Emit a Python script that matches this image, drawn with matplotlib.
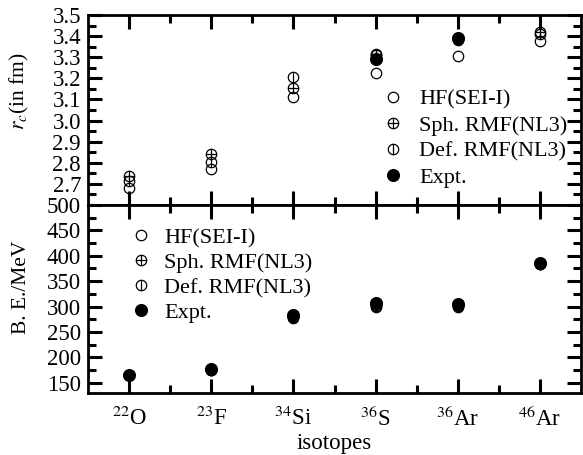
import numpy as np
import matplotlib
matplotlib.use("Agg")
from matplotlib import pyplot as plt
from matplotlib.path import Path
from matplotlib.ticker import MultipleLocator, FixedLocator

plt.rcParams['font.family'] = ['Liberation Serif', 'DejaVu Serif']
plt.rcParams['mathtext.fontset'] = 'stix'

## isotopes on the x axis
isotopes = ['$^{22}$O', '$^{23}$F', '$^{34}$Si', '$^{36}$S', '$^{36}$Ar', '$^{46}$Ar']
xpos = np.arange(1, 7)

## charge radii r_c (fm)
rc_hf = [2.68, 2.77, 3.11, 3.225, 3.305, 3.375]
rc_sph = [2.735, 2.84, 3.155, 3.315, 3.38, 3.42]
rc_def = [2.715, 2.805, 3.205, 3.31, 3.385, 3.41]
rc_exp_x = [4, 5]
rc_exp = [3.29, 3.39]

## binding energies (MeV)
be_hf = [165, 176, 278, 300, 300, 384]
be_sph = [165, 176, 280, 302, 302, 384]
be_def = [165, 176, 281, 303, 303, 384]
be_exp = [165, 177, 284, 307, 305, 385]

labels = ['HF(SEI-I)', 'Sph. RMF(NL3)', 'Def. RMF(NL3)', 'Expt.']

# markers: open circle, circle with cross, circle with vertical bar
circ = Path.unit_circle()
vbar = Path([[0, -1], [0, 1]], [Path.MOVETO, Path.LINETO])
hbar = Path([[-1, 0], [1, 0]], [Path.MOVETO, Path.LINETO])
m_sph = Path.make_compound_path(circ, vbar, hbar)
m_def = Path.make_compound_path(circ, vbar)

fs = 16.5
lfs = 16
yfs = 15.5
fig = plt.figure(figsize=(5.83, 4.55), dpi=100)
ax1 = fig.add_axes([0.151, 0.5495, 0.8456, 0.4176])
ax2 = fig.add_axes([0.151, 0.1363, 0.8456, 0.4132], sharex=ax1)

def style(ax):
    for s in ax.spines.values():
        s.set_linewidth(2.0)
    ax.tick_params(which='both', direction='in', top=True, right=True,
                   labelsize=fs, pad=5)
    ax.tick_params(which='major', length=10, width=2.2)
    ax.tick_params(which='minor', length=5.5, width=2.2)

def draw(ax, xs_list, ys_list):
    kw = dict(ls='none', color='black', mec='black', mew=0.9)
    ax.plot(xpos, ys_list[0], marker='o', ms=7.5, mfc='none', label=labels[0], **kw)
    ax.plot(xpos, ys_list[1], marker=m_sph, ms=7.5, mfc='none', label=labels[1], **kw)
    ax.plot(xpos, ys_list[2], marker=m_def, ms=7.5, mfc='none', label=labels[2], **kw)
    ax.plot(xs_list, ys_list[3], marker='o', ms=8.5, mfc='black', label=labels[3], **kw)

draw(ax1, rc_exp_x, [rc_hf, rc_sph, rc_def, rc_exp])
draw(ax2, xpos, [be_hf, be_sph, be_def, be_exp])

for ax in (ax1, ax2):
    style(ax)
    ax.set_xlim(0.5, 6.5)
    ax.xaxis.set_major_locator(FixedLocator(xpos))
    ax.xaxis.set_minor_locator(FixedLocator(xpos[:-1] + 0.5))

ax1.set_ylim(2.6, 3.5)
ax1.yaxis.set_major_locator(FixedLocator(np.round(np.arange(2.7, 3.51, 0.1), 1)))
ax1.yaxis.set_minor_locator(MultipleLocator(0.05))
ax1.yaxis.set_major_formatter(plt.FuncFormatter(lambda v, p: '%.1f' % v))
ax1.tick_params(axis='x', labelbottom=False)
ax1.set_ylabel('$r_c$(in fm)', fontsize=yfs)

ax2.set_ylim(130, 500)
ax2.yaxis.set_major_locator(FixedLocator(np.arange(150, 501, 50)))
ax2.yaxis.set_minor_locator(FixedLocator(np.arange(175, 500, 50)))
ax2.set_xticklabels(isotopes)
ax2.tick_params(axis='x', pad=10)
ax2.set_ylabel('B. E./MeV', fontsize=yfs)
ax2.set_xlabel('isotopes', fontsize=fs, labelpad=1)

ax1.legend(loc='lower right', bbox_to_anchor=(1.0, 0.02), frameon=False,
           fontsize=lfs, handletextpad=0.6, labelspacing=0.25, handlelength=1.2,
           borderaxespad=0.2)
ax2.legend(loc='upper left', bbox_to_anchor=(0.053, 0.95), frameon=False,
           fontsize=lfs, handletextpad=0.45, labelspacing=0.2, handlelength=1.2,
           borderaxespad=0.2)

ax1.yaxis.set_label_coords(-0.115, 0.6)
ax2.yaxis.set_label_coords(-0.115, 0.56)

fig.savefig('out.png', dpi=100)
